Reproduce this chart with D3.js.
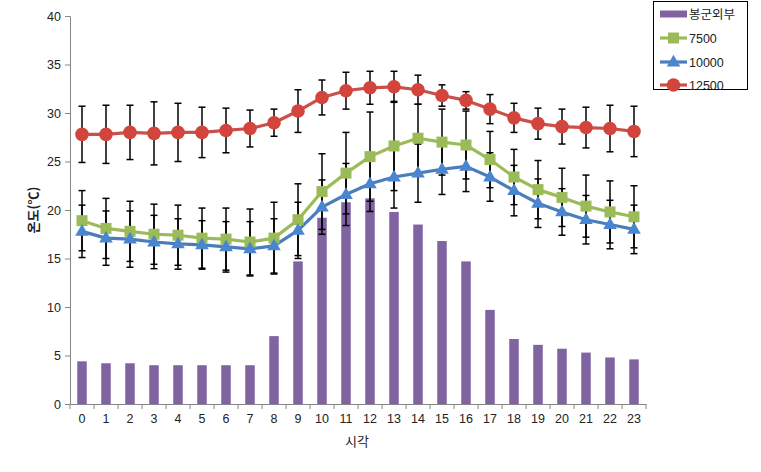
<!DOCTYPE html>
<html>
<head>
<meta charset="utf-8">
<script src="https://cdn.jsdelivr.net/npm/d3@7/dist/d3.min.js"></script>
<style>
  html, body { margin: 0; padding: 0; background: #fff; }
  svg { display: block; }
  text { font-family: "Liberation Sans", "Noto Sans CJK KR", sans-serif; }
  .kr { font-family: "Noto Sans CJK KR", sans-serif; }
</style>
</head>
<body>
<svg id="chart" width="761" height="472"></svg>
<script>
const hours = [0,1,2,3,4,5,6,7,8,9,10,11,12,13,14,15,16,17,18,19,20,21,22,23];
const yTicks = [0,5,10,15,20,25,30,35,40];

const outside = [4.4,4.2,4.2,4.0,4.0,4.0,4.0,4.0,7.0,14.7,19.2,20.8,21.2,19.8,18.5,16.8,14.7,9.7,6.7,6.1,5.7,5.3,4.8,4.6];

const s7500  = [18.9,18.1,17.8,17.5,17.4,17.1,17.0,16.7,17.1,19.0,21.9,23.8,25.5,26.6,27.4,27.0,26.7,25.2,23.4,22.1,21.3,20.4,19.8,19.3];
const e7500  = [3.1,3.1,3.1,3.1,3.1,3.1,3.2,3.4,3.7,3.7,3.9,4.2,4.6,4.6,3.5,3.4,3.5,2.9,2.85,3.0,3.0,3.2,3.2,3.2];

const s10000 = [17.8,17.1,17.0,16.7,16.5,16.4,16.2,16.0,16.3,17.9,20.3,21.6,22.7,23.4,23.8,24.2,24.5,23.4,22.0,20.7,19.8,19.0,18.5,18.0];
const e10000 = [2.7,2.8,2.9,2.75,2.6,2.5,2.6,2.8,2.8,2.9,2.8,3.2,2.85,3.2,3.0,2.6,2.6,2.5,2.6,2.5,2.4,2.5,2.5,2.5];

const s12500 = [27.8,27.8,28.0,27.9,28.0,28.0,28.2,28.4,29.0,30.2,31.6,32.3,32.6,32.7,32.4,31.8,31.3,30.4,29.5,28.9,28.6,28.5,28.4,28.1];
const e12500 = [2.9,3.0,2.8,3.25,3.0,2.6,2.3,1.9,1.4,2.2,1.8,1.9,1.7,1.6,1.5,1.1,0.9,1.5,1.5,1.6,1.8,2.1,2.4,2.6];

const legendLabels = ["봉군외부","7500","10000","12500"];
const xTitle = "시각";
const yTitle = "온도(℃)";

const svg = d3.select("#chart");
const x = d3.scaleBand().domain(hours).range([70, 646]).padding(0);
const y = d3.scaleLinear().domain([0, 40]).range([404, 16]);

const axisColor = "#868686";

// bars
const barW = 9.5;
svg.append("g").selectAll("rect").data(hours).join("rect")
  .attr("x", d => x(d) + x.bandwidth()/2 - barW/2)
  .attr("y", (d,i) => y(outside[i]))
  .attr("width", barW)
  .attr("height", (d,i) => y(0) - y(outside[i]))
  .attr("fill", "#8064A2");

// axes
const yAxis = d3.axisLeft(y).tickValues(yTicks).tickSize(5).tickPadding(4);
const gy = svg.append("g").attr("transform", "translate(70,0)").call(yAxis);
gy.select(".domain").attr("stroke", axisColor);
gy.selectAll(".tick line").attr("stroke", axisColor);
gy.selectAll(".tick text").attr("fill", "#222").style("font-size", "12.5px");

const xAxis = d3.axisBottom(x).tickSize(0).tickPadding(10);
const gx = svg.append("g").attr("transform", "translate(0,404)").call(xAxis);
gx.select(".domain").attr("stroke", axisColor);
gx.selectAll(".tick text").attr("fill", "#222").style("font-size", "12.5px");
// band boundary ticks
const bounds = hours.map(h => x(h)).concat([x(23) + x.bandwidth()]);
svg.append("g").selectAll("line").data(bounds).join("line")
  .attr("x1", d => d).attr("x2", d => d)
  .attr("y1", 404).attr("y2", 409)
  .attr("stroke", axisColor);

// error bars
const series = [
  {vals: s7500, errs: e7500, color: "#9BBB59", line: "#9BBB59", shape: "square"},
  {vals: s10000, errs: e10000, color: "#4A86CF", line: "#4A7EBB", shape: "triangle"},
  {vals: s12500, errs: e12500, color: "#D2443C", line: "#C9504B", shape: "circle"}
];
const cx = h => x(h) + x.bandwidth()/2;
const eg = svg.append("g").attr("stroke", "#000").attr("stroke-width", 1.5);
series.forEach(s => {
  hours.forEach((h, i) => {
    const x0 = cx(h);
    const yt = y(s.vals[i] + s.errs[i]), yb = y(s.vals[i] - s.errs[i]);
    eg.append("line").attr("x1", x0).attr("x2", x0).attr("y1", yt).attr("y2", yb);
    eg.append("line").attr("x1", x0-3.5).attr("x2", x0+3.5).attr("y1", yt).attr("y2", yt);
    eg.append("line").attr("x1", x0-3.5).attr("x2", x0+3.5).attr("y1", yb).attr("y2", yb);
  });
});

// lines
const lineGen = vals => d3.line().x((d,i) => cx(hours[i])).y(d => y(d))(vals);
series.forEach(s => {
  svg.append("path").attr("d", lineGen(s.vals))
    .attr("fill", "none").attr("stroke", s.line).attr("stroke-width", 3.2)
    .attr("stroke-linejoin", "round");
});

// markers
function marker(g, shape, color, px, py) {
  if (shape === "circle") {
    g.append("circle").attr("cx", px).attr("cy", py).attr("r", 6.8).attr("fill", color);
  } else if (shape === "square") {
    g.append("rect").attr("x", px-5.5).attr("y", py-5.5).attr("width", 11).attr("height", 11).attr("fill", color);
  } else {
    const sym = d3.symbol().type(d3.symbolTriangle).size(80);
    g.append("path").attr("d", sym()).attr("transform", `translate(${px},${py+0.5})`).attr("fill", color);
  }
}
series.forEach(s => {
  const g = svg.append("g");
  hours.forEach((h, i) => marker(g, s.shape, s.color, cx(h), y(s.vals[i])));
});

// axis titles
svg.append("text").attr("class", "kr").attr("x", 357).attr("y", 446)
  .attr("text-anchor", "middle").style("font-size", "13px").attr("fill", "#222").text(xTitle);
svg.append("text").attr("class", "kr")
  .attr("transform", "translate(38,210) rotate(-90)")
  .attr("text-anchor", "middle").style("font-size", "13px").style("font-weight", "bold")
  .attr("fill", "#222").text(yTitle);

// legend
const lg = svg.append("g");
lg.append("rect").attr("x", 653.5).attr("y", 1.5).attr("width", 94).attr("height", 88)
  .attr("fill", "#fff").attr("stroke", "#000").attr("stroke-width", 1);
const ly = [14, 38, 62, 85];
lg.append("rect").attr("x", 660).attr("y", ly[0]-3.5).attr("width", 27).attr("height", 7).attr("fill", "#8064A2");
series.forEach((s, k) => {
  const yy = ly[k+1];
  lg.append("line").attr("x1", 660).attr("x2", 687).attr("y1", yy).attr("y2", yy)
    .attr("stroke", s.line).attr("stroke-width", 3.2);
  marker(lg, s.shape, s.color, 673.5, yy);
});
legendLabels.forEach((t, k) => {
  lg.append("text").attr("class", k === 0 ? "kr" : null)
    .attr("x", 689).attr("y", ly[k]).attr("dy", "0.36em")
    .style("font-size", "12.5px").attr("fill", "#222").text(t);
});
</script>
</body>
</html>
